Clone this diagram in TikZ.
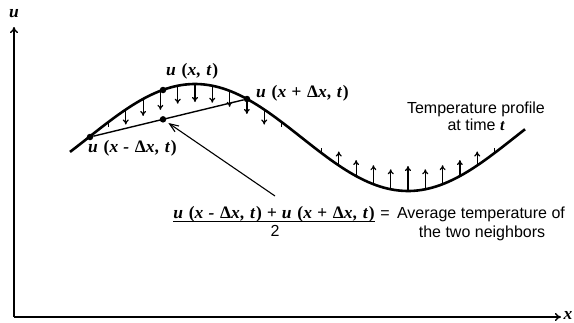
\documentclass[tikz,border=0pt]{standalone}
\usepackage{fontspec}
\setmainfont{Liberation Sans}
\newfontfamily\lblfont[LetterSpace=4]{Liberation Serif}
\usetikzlibrary{arrows.meta,calc}
\newcommand{\prof}[1]{137.5-53.5*cos(0.84507*(#1-195))}
\newcommand{\uarg}[1]{\textup{(}#1\textup{)}}
\begin{document}
\begin{tikzpicture}[x=1pt,y=-1pt,
  lbl/.style={font=\lblfont\fontsize{17.5}{19}\selectfont\bfseries\itshape,inner sep=0pt},
  txt/.style={font=\fontsize{16}{18}\selectfont,inner sep=0pt},
  dot/.style={circle,fill,inner sep=0pt,minimum size=6.5pt},
  flux/.style={line width=1.2pt,-{To[length=5pt,width=6pt]}}]
\useasboundingbox (0,0) rectangle (574,322);
% axes
\coordinate (O) at (14,317);
\coordinate (utop) at (14,27);
\coordinate (xend) at (561,317);
\draw[line width=1.4pt,-{To[length=6pt,width=8pt]}] (O) -- (utop);
\draw[line width=1.4pt,-{To[length=6pt,width=8pt]}] (O) -- (xend);
\node[lbl] (ulab) at (14,14) {u};
\node[lbl] (xlab) at (568,315) {x};
% temperature profile
\draw[line width=2.6pt] plot[domain=70:525,samples=120] (\x,{\prof{\x}});
% flux arrows under the crest
\foreach \j/\len in {-4/15,-3/17,-2/19,-1/18,0/18,1/17,2/16,3/15,4/15} {
  \pgfmathsetmacro\xa{195+17.3*\j}
  \pgfmathsetmacro\ya{\prof{\xa}}
  \draw[flux] (\xa,\ya) -- ++(0,\len);
}
% flux arrows over the trough
\foreach \j/\len in {-4/14,-3/16,-2/19,-1/20,0/25,1/20,2/19,3/16,4/14} {
  \pgfmathsetmacro\xa{408+17.3*\j}
  \pgfmathsetmacro\ya{\prof{\xa}}
  \draw[flux] (\xa,\ya) -- ++(0,-\len);
}
% ticks at the ends
\foreach \xa/\s in {108.5/1,281.5/1,321.5/-1,494.5/-1} {
  \pgfmathsetmacro\ya{\prof{\xa}}
  \draw[line width=1.2pt] (\xa,\ya) -- ++(0,5*\s);
}
% points
\node[dot] (L) at (90,137) {};
\node[dot] (R) at (247,99) {};
\node[dot] (P) at (163,90) {};
\draw[line width=1.4pt] (L) -- (R);
\node[dot] (M) at ($(L)!0.465!(R)$) {};
\node[lbl,anchor=base west] (Plab) at (166,75) {u \uarg{x, t}};
\node[lbl,anchor=base west] (Rlab) at (256,97) {u \uarg{x + \textup{Δ}x, t}};
\node[lbl,anchor=base west] (Llab) at (88,152) {u \uarg{x - \textup{Δ}x, t}};
% pointer to the mean
\coordinate (ptail) at (275,196);
\draw[line width=1.1pt,-{Straight Barb[length=9pt,width=7pt]},shorten >=3pt] (ptail) -- (M);
% average
\node[lbl,anchor=base] (num) at (274,218) {u \uarg{x - \textup{Δ}x, t} + u \uarg{x + \textup{Δ}x, t}};
\draw[line width=1pt] ([yshift=-3pt]num.base west) -- ([yshift=-3pt]num.base east);
\node[txt,anchor=base] (den) at (275,236) {2};
\node[txt,anchor=base] (eq) at (385,218) {=};
\node[txt,anchor=base] (avg1) at (481,218) {Average temperature of};
\node[txt,anchor=base] (avg2) at (482,237) {the two neighbors};
% profile label
\node[txt,anchor=base] (prof1) at (476,113) {Temperature profile};
\node[txt,anchor=base] (prof2) at (476,130) {at time {\lblfont\bfseries\itshape t}};
\end{tikzpicture}
\end{document}
